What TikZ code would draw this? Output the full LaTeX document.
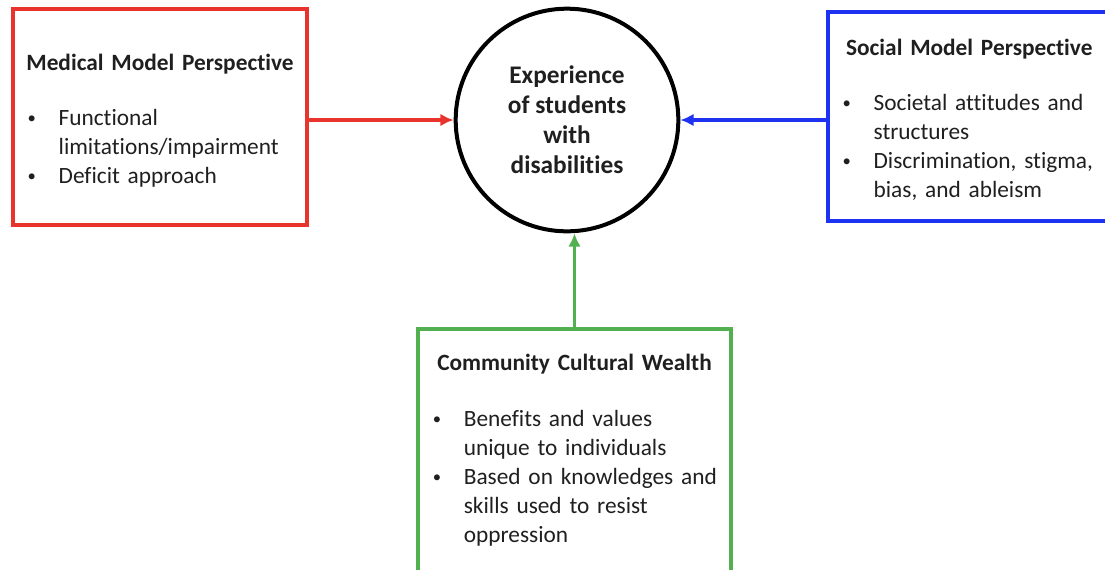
\documentclass[tikz,border=0pt]{standalone}
\usepackage{fontspec}
\setmainfont{Carlito}[Ligatures=NoCommon]
\usetikzlibrary{arrows.meta}

\definecolor{medred}{RGB}{233,52,46}
\definecolor{socblue}{RGB}{30,50,242}
\definecolor{ccwgreen}{RGB}{82,176,80}

% bullet point, wrapped lines given with \\ stay indented
\newcommand{\bitem}[1]{\par\lineskip=0pt\noindent
  \makebox[23.25pt][l]{\raisebox{1.6pt}{\fontsize{12.5}{12.5}\selectfont\textbullet}}%
  \begin{tabular}[t]{@{}l@{}}#1\end{tabular}\par}
\newcommand{\boxhead}[1]{\par\noindent\makebox[\linewidth]{\bfseries #1}\par\vspace{20pt}}

\tikzset{
  modelbox/.style={draw, line width=3pt, inner xsep=11pt, align=left,
    text=black!88, font=\fontsize{17.5}{21.75}\selectfont},
  link/.style={->, line width=2.8pt},
}

\begin{document}
\begin{tikzpicture}[x=0.75pt, y=-0.75pt, >={Latex[length=10pt,width=9.5pt]}]
\useasboundingbox (0,0) rectangle (1105,569);

\node[draw, circle, line width=3pt, minimum size=167pt, align=center, text=black!88,
  font=\fontsize{19}{22.5}\selectfont\bfseries] (exper) at (567,120)
  {Experience\\of students\\with\\disabilities};

\node[modelbox, draw=medred, text width=198.5pt, minimum height=162pt] (medical) at (160,117)
  {\boxhead{Medical Model Perspective}
   \bitem{Functional\\limitations/impairment}
   \bitem{Deficit approach}};

\node[modelbox, draw=socblue, text width=190pt, minimum height=157pt] (social) at (969.3,116.5)
  {\boxhead{Social Model Perspective}
   \bitem{Societal attitudes and\\structures}
   \bitem{Discrimination, stigma,\\bias, and ableism}};

% runs off the bottom edge, extra space below the list
\node[modelbox, draw=ccwgreen, text width=212.5pt, minimum height=188pt] (wealth) at (574.5,454.75)
  {\boxhead{Community Cultural Wealth}
   \bitem{Benefits and values\\unique to individuals}
   \bitem{Based on knowledges and\\skills used to resist\\oppression}
   \vspace*{12.4pt}};

\draw[link, medred] (medical.east |- exper.west) -- (exper.west);
\draw[link, socblue] (social.west |- exper.east) -- (exper.east);
\draw[link, ccwgreen] (wealth.north) -- (wealth.north |- exper.south);
\end{tikzpicture}
\end{document}
